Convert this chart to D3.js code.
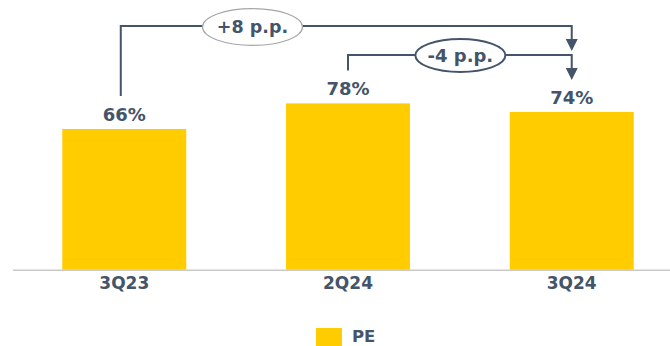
<!DOCTYPE html>
<html>
<head>
<meta charset="utf-8">
<script src="https://cdn.jsdelivr.net/npm/d3@7"></script>
<style>
  html, body { margin: 0; padding: 0; background: #fff; }
  svg { display: block; font-family: "DejaVu Sans", Verdana, sans-serif; font-weight: bold; }
</style>
</head>
<body>
<svg id="chart" width="670" height="346"></svg>
<script>
// Quarterly PE share (%)
const categories = ["3Q23", "2Q24", "3Q24"];
const seriesName = "PE";
const values = [66, 78, 74];

// Change annotations between quarters (percentage points)
const changeFrom = ["3Q23", "2Q24"];
const changeTo = ["3Q24", "3Q24"];
const changeLabels = ["+8 p.p.", "-4 p.p."];

const W = 670, H = 346;
const ink = "#44546A";
const barColor = "#FFCC00";

const svg = d3.select("#chart");

const x = d3.scaleBand()
  .domain(categories)
  .range([12.4, 683.6])
  .paddingInner(0.446)
  .paddingOuter(0.223);

const y = d3.scaleLinear()
  .domain([0, 100])
  .range([269.7, 56.5]);

// Bars
svg.append("g")
  .selectAll("rect")
  .data(categories)
  .join("rect")
  .attr("x", d => x(d))
  .attr("y", (d, i) => y(values[i]))
  .attr("width", x.bandwidth())
  .attr("height", (d, i) => y(0) - y(values[i]))
  .attr("fill", barColor);

// Category axis
const axis = svg.append("g")
  .attr("transform", `translate(0,${y(0)})`)
  .call(d3.axisBottom(x).tickSize(0).tickPadding(7.5));
axis.select(".domain").attr("stroke", "#c9c9c9").attr("stroke-width", 1.6);
axis.selectAll("text")
  .attr("fill", ink)
  .style("font-size", "17px")
  .style("font-weight", "bold")
  .style("font-family", "'DejaVu Sans', Verdana, sans-serif");

// Value labels
svg.append("g")
  .selectAll("text")
  .data(categories)
  .join("text")
  .attr("x", d => x(d) + x.bandwidth() / 2)
  .attr("y", (d, i) => y(values[i]) - 8)
  .attr("text-anchor", "middle")
  .attr("fill", ink)
  .style("font-size", "18px")
  .text((d, i) => values[i] + "%");

// Change brackets with arrows
const cx = c => x(c) + x.bandwidth() / 2;
const valueOf = c => values[categories.indexOf(c)];
const levels = [26, 55];
const ellipses = [
  { dx: -95.5, rx: 50, ry: 18.3, dy: 1, stroke: "#a6a6a6", sw: 1.2, size: 17.5 },
  { dx: 0.5, rx: 45, ry: 16.5, dy: 0.5, stroke: ink, sw: 2, size: 18 }
];
const startShift = [-3.5, 0];

const ann = svg.append("g");
changeLabels.forEach((label, i) => {
  const x0 = cx(changeFrom[i]) + startShift[i];
  const x1 = cx(changeTo[i]);
  const lv = levels[i];
  const start = y(valueOf(changeFrom[i])) - 33;
  const tip = i === 0 ? levels[1] - 4 : y(valueOf(changeTo[i])) - 32;
  const head = 12;

  ann.append("path")
    .attr("d", `M${x0},${start}V${lv}H${x1}V${tip - head}`)
    .attr("fill", "none")
    .attr("stroke", ink)
    .attr("stroke-width", 2);

  ann.append("path")
    .attr("d", `M${x1 - 6},${tip - head}L${x1 + 6},${tip - head}L${x1},${tip}Z`)
    .attr("fill", ink);

  const e = ellipses[i];
  const ex = (cx(changeFrom[i]) + x1) / 2 + e.dx;
  const ey = lv + e.dy;
  ann.append("ellipse")
    .attr("cx", ex)
    .attr("cy", ey)
    .attr("rx", e.rx)
    .attr("ry", e.ry)
    .attr("fill", "#fff")
    .attr("stroke", e.stroke)
    .attr("stroke-width", e.sw);

  ann.append("text")
    .attr("x", ex)
    .attr("y", ey + e.size * 0.36)
    .attr("text-anchor", "middle")
    .attr("fill", ink)
    .style("font-size", e.size + "px")
    .text(label);
});

// Legend
const legend = svg.append("g");
legend.append("rect")
  .attr("x", 316).attr("y", 328)
  .attr("width", 26).attr("height", 26)
  .attr("fill", barColor);
legend.append("text")
  .attr("x", 352).attr("y", 341.8)
  .attr("fill", ink)
  .style("font-size", "16.5px")
  .text(seriesName);
</script>
</body>
</html>
